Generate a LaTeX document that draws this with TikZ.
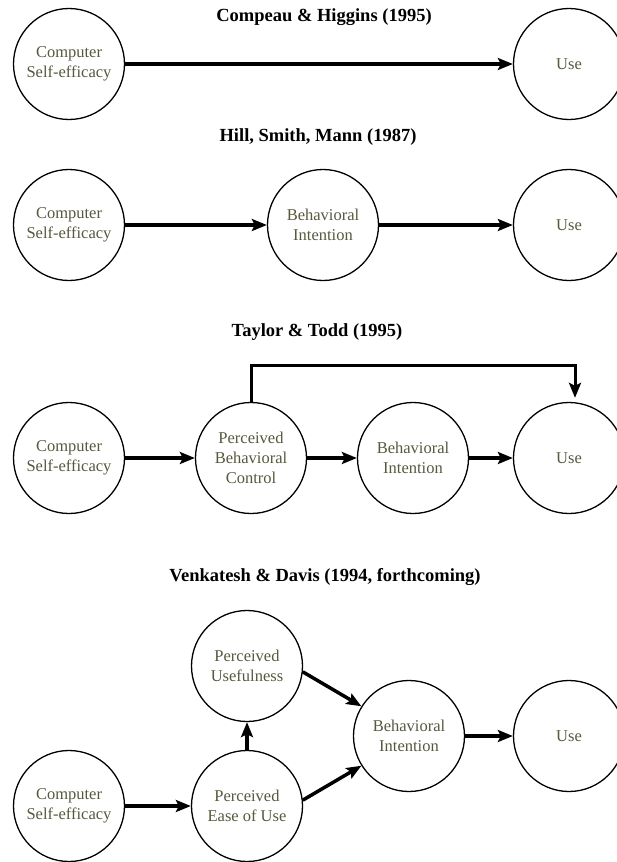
\documentclass[tikz,border=0pt]{standalone}
\usepackage{fontspec}
\setmainfont{Liberation Serif}
\usetikzlibrary{arrows.meta}
\definecolor{labelcol}{RGB}{88,88,62}
\tikzset{
  var/.style={circle, draw=black, line width=1.3pt, minimum size=111pt, inner sep=0pt,
    align=center, text=labelcol, font=\fontsize{16.5}{20}\selectfont},
  ttl/.style={font=\bfseries\fontsize{18.5}{22}\selectfont, text=black},
  conn/.style={line width=3.5pt, -{Stealth[length=15pt,width=12pt,inset=3pt]}},
}
\begin{document}
\begin{tikzpicture}[x=1pt,y=-1pt]
\useasboundingbox[fill=white] (0,0) rectangle (617,862);
% Row 1
\node[ttl] (t1) at (324,17) {Compeau \& Higgins (1995)};
\node[var] (a1) at (69,64) {Computer\\Self-efficacy};
\node[var] (u1) at (569,64) {Use};
\draw[conn] (a1) -- (u1);
% Row 2
\node[ttl] (t2) at (318,137) {Hill, Smith, Mann (1987)};
\node[var] (a2) at (69,225) {Computer\\Self-efficacy};
\node[var] (b2) at (323,225) {Behavioral\\Intention};
\node[var] (u2) at (569,225) {Use};
\draw[conn] (a2) -- (b2);
\draw[conn] (b2) -- (u2);
% Row 3
\node[ttl] (t3) at (317,332) {Taylor \& Todd (1995)};
\node[var] (a3) at (69,458) {Computer\\Self-efficacy};
\node[var] (p3) at (251,458) {Perceived\\Behavioral\\Control};
\node[var] (b3) at (413,458) {Behavioral\\Intention};
\node[var] (u3) at (569,458) {Use};
\coordinate (fb) at (575,365);
\draw[conn] (a3) -- (p3);
\draw[conn] (p3) -- (b3);
\draw[conn] (b3) -- (u3);
\draw[line width=3pt, -{Stealth[length=15pt,width=12pt,inset=3pt]}, shorten >=4pt]
  (p3.north) |- (fb) -- (u3.north -| fb);
% Row 4
\node[ttl] (t4) at (325,577) {Venkatesh \& Davis (1994, forthcoming)};
\node[var] (pu) at (247,666) {Perceived\\Usefulness};
\node[var] (pe) at (247,806) {Perceived\\Ease of Use};
\node[var] (a4) at (69,806) {Computer\\Self-efficacy};
\node[var] (b4) at (409,736) {Behavioral\\Intention};
\node[var] (u4) at (569,736) {Use};
\draw[conn] (a4) -- (pe);
\draw[conn] (pe) -- (pu);
\draw[conn] (pu.-6) -- (b4.148);
\draw[conn] (pe.6) -- (b4.212);
\draw[conn] (b4) -- (u4);
\end{tikzpicture}
\end{document}
